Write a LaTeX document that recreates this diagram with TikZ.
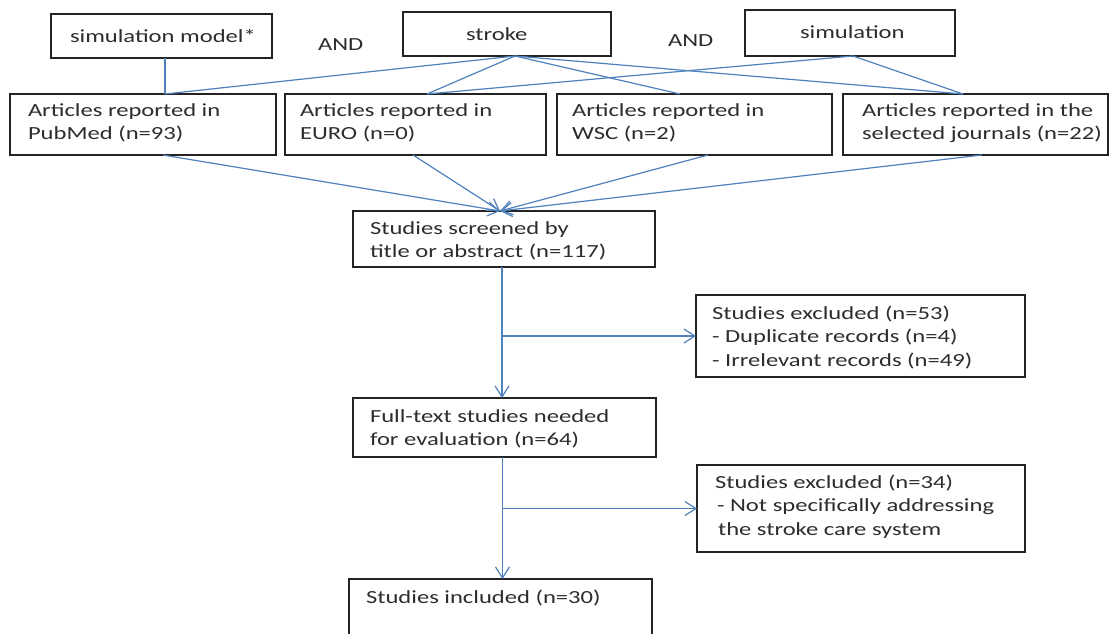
\documentclass[tikz,border=0pt]{standalone}
\usepackage{fontspec}
\newfontfamily\dfont[FakeStretch=1.33]{Carlito}
\usetikzlibrary{arrows.meta,calc}
\definecolor{lnblue}{RGB}{79,129,189}
\definecolor{boxline}{RGB}{35,35,35}
\definecolor{txtcol}{RGB}{45,45,45}
\newcommand\mlines[1]{\begin{tabular}[t]{@{}l@{}}#1\end{tabular}}
\begin{document}
\begin{tikzpicture}[x=1pt,y=-1pt,
  box/.style={draw=boxline, line width=1.4pt, inner sep=0pt, outer sep=0pt, anchor=north west, fill=white},
  lbl/.style={anchor=base west, inner sep=0pt, outer sep=0pt, text=txtcol, font={\dfont\fontsize{18.5}{23.5}\selectfont}},
  conn/.style={draw=lnblue, line width=1.2pt},
  arr/.style={conn, -{Straight Barb[length=11pt,width=14pt,line width=1.2pt]}}]
\useasboundingbox (0,0) rectangle (1111,633);
\fill[white] (0,0) rectangle (1111,633);
\clip (0,0) rectangle (1111,633);

% search terms
\node[box, minimum width=221pt, minimum height=44pt] (sm) at (51,14) {};
\node[lbl] (smt) at (70,42) {simulation model*};
\node[lbl] (and1) at (318,50) {AND};
\node[box, minimum width=208pt, minimum height=44pt] (stroke) at (403,12) {};
\node[lbl] (strokt) at (466,40) {stroke};
\node[lbl] (and2) at (668,46) {AND};
\node[box, minimum width=210pt, minimum height=46pt] (sim) at (745,10) {};
\node[lbl] (simt) at (800,38) {simulation};

% sources
\node[box, minimum width=266pt, minimum height=61pt] (b1) at (10,94) {};
\node[lbl] (b1t) at (28,116) {\mlines{Articles reported in\\PubMed (n=93)}};
\node[box, minimum width=261pt, minimum height=61pt] (b2) at (285,94) {};
\node[lbl] (b2t) at (300,116) {\mlines{Articles reported in\\EURO (n=0)}};
\node[box, minimum width=275pt, minimum height=61pt] (b3) at (557,94) {};
\node[lbl] (b3t) at (572,116) {\mlines{Articles reported in\\WSC (n=2)}};
\node[box, minimum width=265pt, minimum height=61pt] (b4) at (843,94) {};
\node[lbl] (b4t) at (862,116) {\mlines{Articles reported in the\\selected journals (n=22)}};

% flow
\node[box, minimum width=302pt, minimum height=56pt] (screened) at (353,211) {};
\node[lbl] (screenedt) at (370,234) {\mlines{Studies screened by\\title or abstract (n=117)}};
\node[box, minimum width=329pt, minimum height=82pt] (excl1) at (696,295) {};
\node[lbl] (excl1t) at (712,319) {\mlines{Studies excluded (n=53)\\- Duplicate records (n=4)\\- Irrelevant records (n=49)}};
\node[box, minimum width=303pt, minimum height=59pt] (full) at (353,398) {};
\node[lbl] (fullt) at (370,422) {\mlines{Full-text studies needed\\for evaluation (n=64)}};
\node[box, minimum width=328pt, minimum height=87pt] (excl2) at (697,465) {};
\node[lbl] (excl2t) at (715,488) {\mlines{Studies excluded (n=34)\\\hspace{2pt}- Not specifically addressing\\\hspace{3pt}the stroke care system}};
\node[box, minimum width=303pt, minimum height=80pt] (incl) at (349,579) {};
\node[lbl] (inclt) at (366,603) {Studies included (n=30)};

% top connectors
\draw[conn] ([xshift=3.5pt]sm.south) -- ([xshift=22pt]b1.north);
\draw[conn] ([xshift=8pt]stroke.south) -- ([xshift=22pt]b1.north);
\draw[conn] ([xshift=8pt]stroke.south) -- ([xshift=11.5pt]b2.north);
\draw[conn] ([xshift=8pt]stroke.south) -- ([xshift=-14.5pt]b3.north);
\draw[conn] ([xshift=8pt]stroke.south) -- ([xshift=-12.5pt]b4.north);
\draw[conn] ([xshift=3pt]sim.south) -- ([xshift=11.5pt]b2.north);
\draw[conn] ([xshift=3pt]sim.south) -- ([xshift=-12.5pt]b4.north);

% converging arrows
\draw[arr] ([xshift=20pt]b1.south) -- ([xshift=-4pt]screened.north);
\draw[arr] ([xshift=-2.5pt]b2.south) -- ([xshift=-4pt]screened.north);
\draw[arr] ([xshift=13.5pt]b3.south) -- ([xshift=-4pt]screened.north);
\draw[arr] ([xshift=6.5pt]b4.south) -- ([xshift=-4pt]screened.north);

% main flow
\coordinate (v1) at ([xshift=-2pt]screened.south);
\draw[arr] (v1) -- (v1 |- full.north);
\draw[arr] (v1 |- excl1.west) -- (excl1.west);
\coordinate (v2) at ([xshift=-2pt]full.south);
\draw[arr] (v2) -- (v2 |- incl.north);
\draw[arr] (v2 |- excl2.west) -- (excl2.west);
\end{tikzpicture}
\end{document}
